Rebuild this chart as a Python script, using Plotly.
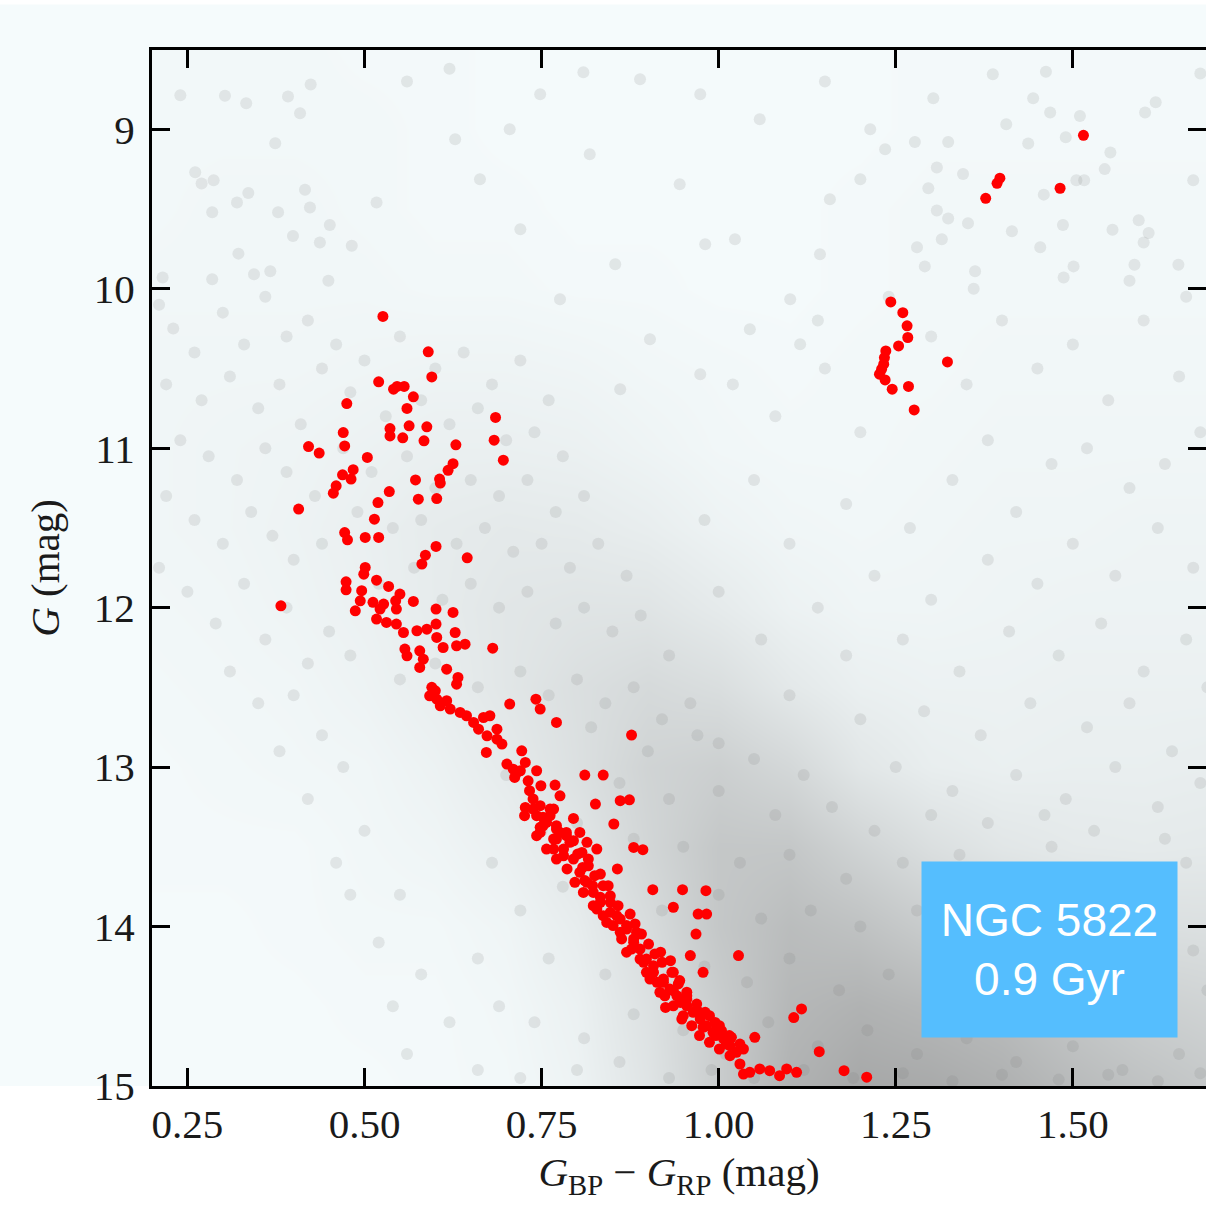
import plotly.graph_objects as go

# ---------------- data ----------------
# cluster members (red): (G_BP - G_RP, G)
members = [
    # red giants
    (1.515, 9.038), (1.397, 9.307), (1.393, 9.339), (1.377, 9.433), (1.482, 9.370),
    (1.243, 10.083), (1.260, 10.150), (1.266, 10.233), (1.267, 10.306), (1.254, 10.359),
    (1.236, 10.390), (1.234, 10.432), (1.233, 10.473), (1.230, 10.505), (1.227, 10.536),
    (1.235, 10.572), (1.245, 10.630), (1.268, 10.613), (1.276, 10.760), (1.323, 10.459),
    # upper main sequence / turn-off
    (0.526, 10.174), (0.590, 10.396), (0.595, 10.553), (0.520, 10.584), (0.541, 10.630),
    (0.546, 10.613), (0.556, 10.613), (0.569, 10.678), (0.560, 10.751), (0.475, 10.720),
    (0.470, 10.902), (0.472, 10.986), (0.536, 10.877), (0.536, 10.923), (0.554, 10.935),
    (0.563, 10.860), (0.588, 10.866), (0.584, 10.954), (0.629, 10.979), (0.685, 10.807),
    (0.683, 10.950), (0.696, 11.075), (0.421, 10.990), (0.436, 11.031), (0.504, 11.058),
    (0.484, 11.135), (0.469, 11.167), (0.481, 11.194), (0.460, 11.236), (0.456, 11.282),
    (0.625, 11.097), (0.618, 11.139), (0.606, 11.194), (0.607, 11.219), (0.572, 11.199),
    (0.576, 11.320), (0.602, 11.316), (0.535, 11.272), (0.519, 11.341), (0.407, 11.382),
    (0.514, 11.445), (0.472, 11.529), (0.476, 11.575), (0.501, 11.560), (0.520, 11.560),
    (0.601, 11.616), (0.586, 11.671), (0.581, 11.727), (0.645, 11.688), (0.501, 11.748),
    (0.499, 11.790), (0.517, 11.828), (0.534, 11.867), (0.474, 11.838), (0.474, 11.888),
    (0.550, 11.915), (0.544, 11.957), (0.569, 11.961), (0.382, 11.989), (0.496, 11.894),
    (0.494, 11.957), (0.487, 12.020), (0.512, 11.967), (0.522, 12.009), (0.601, 12.009),
    (0.625, 12.030), (0.517, 12.072), (0.531, 12.093), (0.545, 12.103), (0.601, 12.103),
    (0.527, 11.978), (0.545, 12.009),
    # main sequence 12 - 13.5
    (0.555, 12.156), (0.574, 12.145), (0.588, 12.135), (0.602, 12.187), (0.628, 12.156),
    (0.630, 12.239), (0.642, 12.229), (0.611, 12.250), (0.681, 12.254), (0.557, 12.260),
    (0.578, 12.271), (0.560, 12.302), (0.583, 12.323), (0.578, 12.375), (0.616, 12.386),
    (0.632, 12.438), (0.630, 12.480), (0.595, 12.500), (0.600, 12.522), (0.592, 12.553),
    (0.602, 12.574), (0.607, 12.616), (0.621, 12.636), (0.635, 12.657), (0.644, 12.678),
    (0.616, 12.584), (0.705, 12.605), (0.742, 12.574), (0.748, 12.636), (0.771, 12.720),
    (0.877, 12.799), (0.654, 12.720), (0.668, 12.689), (0.677, 12.678), (0.661, 12.762),
    (0.673, 12.804), (0.687, 12.762), (0.687, 12.825), (0.694, 12.856), (0.672, 12.908),
    (0.722, 12.898), (0.701, 12.981), (0.710, 13.013), (0.720, 13.023), (0.712, 13.065),
    (0.727, 12.971), (0.743, 13.023), (0.731, 13.086), (0.811, 13.050), (0.837, 13.050),
    (0.749, 13.117), (0.769, 13.113), (0.776, 13.180), (0.733, 13.148), (0.738, 13.200),
    (0.727, 13.253), (0.748, 13.242), (0.767, 13.263), (0.795, 13.322), (0.826, 13.232),
    (0.861, 13.211), (0.874, 13.205), (0.852, 13.357), (0.743, 13.305), (0.757, 13.347),
    (0.771, 13.368), (0.748, 13.410), (0.785, 13.410), (0.795, 13.462), (0.771, 13.451),
    (0.814, 13.472), (0.880, 13.504), (0.714, 13.040),
    # main sequence 13.3 - 15
    (0.752, 13.315), (0.762, 13.263), (0.748, 13.378), (0.771, 13.389), (0.785, 13.430),
    (0.804, 13.410), (0.767, 13.514), (0.781, 13.556), (0.828, 13.514), (0.801, 13.545),
    (0.816, 13.577), (0.808, 13.629), (0.857, 13.639), (0.893, 13.518), (0.833, 13.671),
    (0.811, 13.712), (0.822, 13.744), (0.844, 13.744), (0.907, 13.769), (0.949, 13.769),
    (0.982, 13.775), (0.936, 13.879), (0.971, 13.922), (0.983, 13.922), (0.968, 14.047),
    (0.833, 13.817), (0.847, 13.848), (0.828, 13.890), (0.856, 13.932), (0.842, 13.974),
    (0.870, 13.994), (0.861, 14.036), (0.884, 14.036), (0.880, 14.099), (0.870, 14.161),
    (0.918, 14.161), (0.960, 14.182), (1.028, 14.182), (0.894, 14.224), (0.908, 14.287),
    (0.932, 14.214), (0.936, 14.287), (0.978, 14.287), (0.903, 14.329), (0.922, 14.350),
    (0.945, 14.339), (0.917, 14.412), (0.936, 14.402), (0.955, 14.412), (0.925, 14.507),
    (0.946, 14.476), (0.955, 14.455), (0.948, 14.580), (0.973, 14.538), (0.987, 14.559),
    (0.978, 14.632), (1.001, 14.622), (0.996, 14.684), (1.015, 14.684), (1.011, 14.737),
    (1.035, 14.768), (1.051, 14.695), (1.106, 14.571), (1.117, 14.517), (1.142, 14.785),
    (1.030, 14.862), (1.044, 14.914), (1.058, 14.893), (1.072, 14.904), (1.086, 14.935),
    (1.096, 14.893), (1.110, 14.914), (1.035, 14.925), (1.177, 14.904), (1.209, 14.945),
    (0.738, 13.263), (0.752, 13.368), (0.767, 13.451), (0.781, 13.514), (0.795, 13.577),
    (0.804, 13.660), (0.814, 13.723), (0.823, 13.786), (0.833, 13.848), (0.847, 13.911),
    (0.861, 13.953), (0.870, 14.016), (0.880, 14.078), (0.889, 14.141), (0.898, 14.204),
    (0.908, 14.246), (0.922, 14.329), (0.931, 14.392), (0.941, 14.434), (0.955, 14.497),
    (0.964, 14.538), (0.974, 14.580), (0.983, 14.622), (0.992, 14.663), (1.007, 14.705),
    (1.016, 14.747), (1.025, 14.789),
    (0.726, 13.305), (0.743, 13.430), (0.757, 13.514), (0.771, 13.577), (0.786, 13.639),
    (0.797, 13.723), (0.809, 13.786), (0.823, 13.869), (0.837, 13.932), (0.851, 13.994),
    (0.863, 14.078), (0.877, 14.141), (0.889, 14.204), (0.898, 14.287), (0.913, 14.350),
    (0.924, 14.434), (0.936, 14.497), (0.950, 14.559), (0.962, 14.622), (0.973, 14.684),
    (0.987, 14.726), (1.001, 14.768), (1.016, 14.810),
    (0.762, 13.305), (0.776, 13.410), (0.790, 13.472), (0.807, 13.535), (0.816, 13.619),
    (0.825, 13.681), (0.837, 13.744), (0.847, 13.807), (0.858, 13.869), (0.875, 13.922),
    (0.882, 13.984), (0.891, 14.047), (0.901, 14.110), (0.910, 14.172), (0.920, 14.224),
    (0.934, 14.287), (0.943, 14.360), (0.955, 14.434), (0.969, 14.486), (0.981, 14.538),
    (0.995, 14.601), (1.004, 14.653), (1.018, 14.695), (1.030, 14.737),
]

# field stars (grey): (G_BP - G_RP, G)
field = [
    (0.240, 8.787), (0.303, 8.790), (0.333, 8.837), (0.392, 8.795), (0.424, 8.720),
    (0.409, 8.900), (0.374, 9.088), (0.261, 9.270), (0.270, 9.340), (0.287, 9.320),
    (0.336, 9.400), (0.320, 9.460), (0.285, 9.520), (0.378, 9.520), (0.416, 9.380),
    (0.423, 9.490), (0.451, 9.600), (0.399, 9.670), (0.437, 9.710), (0.482, 9.730),
    (0.517, 9.460), (0.322, 9.780), (0.344, 9.910), (0.367, 9.890), (0.285, 9.940),
    (0.449, 9.950), (0.215, 9.930),
    (1.387, 8.655), (1.462, 8.640), (1.303, 8.806), (1.444, 8.806), (1.468, 8.895),
    (1.510, 8.917), (1.406, 8.969), (1.277, 9.080), (1.324, 9.080), (1.437, 9.090),
    (1.490, 9.050), (1.602, 8.895), (1.617, 8.830), (1.553, 9.146), (1.545, 9.250),
    (1.505, 9.320), (1.516, 9.320), (1.308, 9.240), (1.345, 9.280), (1.296, 9.370),
    (1.459, 9.410), (1.670, 9.320), (1.308, 9.510), (1.324, 9.560), (1.352, 9.590),
    (1.414, 9.640), (1.486, 9.600), (1.556, 9.630), (1.593, 9.570), (1.607, 9.650),
    (1.600, 9.710), (1.280, 9.740), (1.315, 9.690), (1.454, 9.740), (1.291, 9.860),
    (1.362, 9.890), (1.501, 9.860), (1.487, 9.930), (1.587, 9.850), (1.649, 9.850),
    (0.809, 8.643), (0.889, 8.687), (0.974, 8.781), (1.058, 8.937), (0.818, 9.157),
    (0.945, 9.345), (1.023, 9.690), (0.981, 9.721), (0.854, 9.846), (1.101, 10.066),
    (1.157, 9.439), (1.214, 9.000), (1.235, 9.125), (1.200, 9.313), (1.115, 10.348),
    (0.903, 10.317), (0.776, 10.066), (0.720, 9.627), (0.663, 9.313), (0.628, 9.063),
    (1.143, 9.784), (1.044, 10.254), (0.974, 10.536), (0.861, 10.630), (0.748, 8.781),
    (0.705, 9.000), (0.560, 8.700), (0.620, 8.620), (1.150, 8.700), (1.680, 8.650),
    (0.21, 10.10), (0.23, 10.25), (0.26, 10.40), (0.30, 10.15), (0.33, 10.35),
    (0.36, 10.05), (0.39, 10.30), (0.42, 10.20), (0.22, 10.60), (0.27, 10.70),
    (0.31, 10.55), (0.35, 10.75), (0.38, 10.60), (0.41, 10.85), (0.44, 10.50),
    (0.24, 10.95), (0.28, 11.05), (0.32, 11.20), (0.36, 11.00), (0.39, 11.15),
    (0.43, 11.30), (0.22, 11.30), (0.26, 11.45), (0.30, 11.60), (0.34, 11.40),
    (0.37, 11.55), (0.40, 11.70), (0.44, 11.60), (0.21, 11.75), (0.25, 11.90),
    (0.29, 12.10), (0.33, 11.85), (0.36, 12.20), (0.39, 12.00), (0.42, 12.35),
    (0.45, 12.15), (0.31, 12.40), (0.35, 12.60), (0.40, 12.55), (0.44, 12.80),
    (0.38, 12.90), (0.47, 13.00), (0.42, 13.20), (0.50, 13.40), (0.46, 13.60),
    (0.55, 13.80), (0.52, 14.10), (0.58, 14.30), (0.62, 14.60), (0.56, 14.80),
    (0.66, 14.90), (0.48, 13.80), (0.54, 14.50),
    (0.46, 10.35), (0.50, 10.45), (0.55, 10.30), (0.60, 10.50), (0.64, 10.40),
    (0.68, 10.60), (0.72, 10.45), (0.76, 10.70), (0.48, 10.65), (0.53, 10.80),
    (0.58, 10.70), (0.62, 10.85), (0.66, 10.75), (0.70, 10.95), (0.74, 10.90),
    (0.78, 11.05), (0.47, 11.00), (0.51, 11.15), (0.56, 11.05), (0.60, 11.25),
    (0.65, 11.20), (0.69, 11.30), (0.73, 11.20), (0.77, 11.40), (0.81, 11.30),
    (0.49, 11.40), (0.54, 11.50), (0.58, 11.45), (0.63, 11.60), (0.67, 11.50),
    (0.71, 11.65), (0.75, 11.60), (0.79, 11.75), (0.83, 11.60), (0.87, 11.80),
    (0.52, 11.85), (0.57, 11.75), (0.61, 11.95), (0.65, 11.85), (0.69, 12.00),
    (0.73, 11.90), (0.77, 12.10), (0.81, 12.00), (0.85, 12.15), (0.89, 12.05),
    (0.93, 12.30), (0.48, 12.30), (0.55, 12.45), (0.60, 12.35), (0.66, 12.50),
    (0.72, 12.40), (0.76, 12.55), (0.80, 12.45), (0.84, 12.60), (0.88, 12.50),
    (0.92, 12.70), (0.96, 12.60), (1.00, 12.85),
    (1.02, 10.60), (1.08, 10.80), (1.15, 10.50), (1.20, 10.90), (1.30, 10.30),
    (1.35, 10.60), (1.40, 10.20), (1.45, 10.50), (1.50, 10.35), (1.55, 10.70),
    (1.60, 10.20), (1.65, 10.55), (1.68, 10.90), (1.38, 10.95), (1.47, 11.10),
    (1.52, 11.00), (1.58, 11.25), (1.63, 11.10), (1.42, 11.40), (1.33, 11.20),
    (1.27, 11.50), (1.18, 11.35), (1.10, 11.60), (1.05, 11.20), (0.98, 11.45),
    (1.50, 11.60), (1.56, 11.80), (1.62, 11.50), (1.67, 11.75), (1.45, 11.85),
    (1.38, 11.70), (1.30, 11.95), (1.22, 11.80), (1.14, 12.00), (1.06, 12.20),
    (1.00, 11.90), (1.18, 12.30), (1.26, 12.20), (1.34, 12.40), (1.41, 12.15),
    (1.48, 12.30), (1.54, 12.10), (1.60, 12.40), (1.66, 12.20), (1.10, 12.55),
    (1.20, 12.70), (1.29, 12.65), (1.37, 12.80), (1.44, 12.60), (1.52, 12.75),
    (1.58, 12.60), (1.64, 12.90), (1.69, 12.50), (1.25, 13.00), (1.33, 13.15),
    (1.42, 13.05), (1.49, 13.20), (1.56, 13.00), (1.62, 13.25), (1.68, 13.10),
    (1.14, 10.20), (1.24, 10.05), (1.58, 9.95), (1.66, 10.05), (1.36, 10.00),
    (0.82, 12.75), (0.90, 12.90), (0.97, 12.80), (1.05, 12.95), (1.12, 13.05),
    (0.86, 13.10), (0.93, 13.20), (1.00, 13.15), (1.08, 13.30), (1.16, 13.25),
    (1.22, 13.40), (0.80, 13.35), (0.88, 13.45), (0.95, 13.50), (1.03, 13.60),
    (1.10, 13.55), (1.18, 13.70), (1.26, 13.60), (1.34, 13.55), (1.40, 13.70),
    (1.47, 13.50), (1.55, 13.65), (1.63, 13.45), (0.78, 13.75), (0.85, 13.85),
    (0.92, 13.90), (1.00, 13.80), (1.06, 13.95), (1.13, 13.90), (1.20, 14.00),
    (1.28, 13.90), (1.36, 14.05), (1.44, 13.95), (1.52, 14.10), (1.60, 13.95),
    (1.67, 14.15), (0.76, 14.20), (0.84, 14.30), (0.90, 14.15), (0.98, 14.25),
    (1.04, 14.35), (1.10, 14.20), (1.17, 14.40), (1.24, 14.30), (1.31, 14.45),
    (1.39, 14.35), (1.46, 14.50), (1.54, 14.40), (1.62, 14.55), (1.69, 14.40),
    (0.74, 14.60), (0.81, 14.70), (0.88, 14.55), (0.95, 14.65), (1.01, 14.80),
    (1.07, 14.60), (1.14, 14.75), (1.21, 14.65), (1.28, 14.80), (1.35, 14.70),
    (1.42, 14.85), (1.50, 14.75), (1.57, 14.90), (1.65, 14.80), (0.72, 14.95),
    (0.80, 14.90), (0.86, 14.85), (0.93, 14.95), (0.99, 14.90), (1.05, 14.95),
    (1.12, 14.90), (1.19, 14.95), (1.26, 14.92), (1.33, 14.97), (1.40, 14.93),
    (1.48, 14.96), (1.55, 14.93), (1.62, 14.97), (1.68, 14.92), (0.70, 13.05),
    (0.75, 13.40), (0.68, 13.60), (0.72, 13.90), (0.66, 14.20), (0.69, 14.50),
    (1.46, 13.30), (1.53, 13.40), (1.60, 13.70), (1.66, 13.60), (1.30, 13.30),
    (1.38, 13.35),
]

# smoothed field-star density (0 = empty, 1 = darkest)
density_colors = [0.2, 0.3, 0.4, 0.5, 0.6, 0.7, 0.8, 0.9, 1.0, 1.1, 1.2, 1.3, 1.4, 1.5, 1.6, 1.7]
density_mags = [8.5, 9.0, 9.5, 10.0, 10.5, 11.0, 11.5, 12.0, 12.5, 13.0, 13.5, 14.0, 14.5, 15.0]
density_grid = [
    [0.03, 0.03, 0.03, 0.02, 0.02, 0.01, 0.01, 0.01, 0.01, 0.01, 0.01, 0.02, 0.02, 0.02, 0.02, 0.02],
    [0.03, 0.03, 0.03, 0.03, 0.02, 0.01, 0.01, 0.01, 0.01, 0.01, 0.01, 0.02, 0.02, 0.02, 0.02, 0.02],
    [0.03, 0.04, 0.04, 0.03, 0.02, 0.02, 0.01, 0.01, 0.01, 0.01, 0.02, 0.03, 0.03, 0.03, 0.03, 0.03],
    [0.04, 0.04, 0.04, 0.04, 0.03, 0.03, 0.02, 0.02, 0.01, 0.01, 0.02, 0.03, 0.03, 0.03, 0.03, 0.03],
    [0.05, 0.05, 0.05, 0.06, 0.07, 0.07, 0.06, 0.04, 0.03, 0.02, 0.03, 0.03, 0.04, 0.04, 0.04, 0.04],
    [0.05, 0.06, 0.07, 0.09, 0.11, 0.11, 0.10, 0.07, 0.04, 0.03, 0.03, 0.04, 0.05, 0.05, 0.05, 0.05],
    [0.05, 0.06, 0.08, 0.11, 0.15, 0.17, 0.16, 0.13, 0.08, 0.05, 0.04, 0.05, 0.06, 0.06, 0.07, 0.07],
    [0.04, 0.05, 0.07, 0.10, 0.15, 0.20, 0.22, 0.22, 0.16, 0.09, 0.06, 0.06, 0.07, 0.08, 0.08, 0.08],
    [0.03, 0.04, 0.05, 0.08, 0.13, 0.20, 0.27, 0.32, 0.28, 0.18, 0.11, 0.09, 0.09, 0.10, 0.10, 0.10],
    [0.02, 0.03, 0.04, 0.05, 0.09, 0.16, 0.26, 0.38, 0.42, 0.34, 0.20, 0.13, 0.11, 0.12, 0.12, 0.13],
    [0.02, 0.02, 0.02, 0.04, 0.06, 0.11, 0.20, 0.36, 0.50, 0.50, 0.38, 0.27, 0.20, 0.17, 0.16, 0.17],
    [0.01, 0.01, 0.02, 0.03, 0.03, 0.06, 0.14, 0.30, 0.50, 0.60, 0.55, 0.45, 0.38, 0.30, 0.27, 0.26],
    [0.01, 0.01, 0.01, 0.02, 0.02, 0.04, 0.10, 0.25, 0.45, 0.65, 0.70, 0.65, 0.60, 0.50, 0.42, 0.38],
    [0.01, 0.01, 0.01, 0.01, 0.02, 0.03, 0.08, 0.22, 0.45, 0.70, 0.80, 0.78, 0.72, 0.62, 0.55, 0.48],
]

x_ticks = [0.25, 0.50, 0.75, 1.00, 1.25, 1.50]
x_ticklabels = ["0.25", "0.50", "0.75", "1.00", "1.25", "1.50"]
y_ticks = [9, 10, 11, 12, 13, 14, 15]
y_ticklabels = ["9", "10", "11", "12", "13", "14", "15"]

cluster_name = "NGC 5822"
cluster_age = "0.9 Gyr"

# ---------------- figure ----------------
BG = "#f5fbfc"
SERIF = "Liberation Serif, DejaVu Serif, serif"
TXT = "#1a1a1a"

fig = go.Figure()

fig.add_trace(go.Heatmap(
    x=density_colors, y=density_mags, z=density_grid,
    zmin=0, zmax=1, zsmooth="best", showscale=False, hoverinfo="skip",
    colorscale=[[0, BG], [1, "#939393"]],
))

fig.add_trace(go.Scatter(
    x=[p[0] for p in field], y=[p[1] for p in field], mode="markers",
    marker=dict(size=12, color="rgba(120,120,120,0.15)", line=dict(width=0)),
    hoverinfo="skip", showlegend=False,
))

fig.add_trace(go.Scatter(
    x=[p[0] for p in members], y=[p[1] for p in members], mode="markers",
    marker=dict(size=11, color="#ff0000", line=dict(width=0)),
    showlegend=False,
))

axis_common = dict(
    showgrid=False, zeroline=False, ticks="inside", ticklen=18, tickwidth=3,
    tickcolor="black", linecolor="black", linewidth=3, showline=True,
    tickfont=dict(family=SERIF, size=41, color=TXT),
)

fig.update_layout(
    width=1206, height=1209,
    margin=dict(l=152, r=0, t=50, b=123),
    paper_bgcolor="white", plot_bgcolor=BG,
    showlegend=False,
    xaxis=dict(
        range=[0.2, 1.688], tickvals=x_ticks, ticktext=x_ticklabels,
        mirror="ticks", ticklabelstandoff=0,
        title=dict(text="<i>G</i><sub>BP</sub> − <i>G</i><sub>RP</sub> (mag)",
                   font=dict(family=SERIF, size=41, color=TXT), standoff=12),
        **axis_common,
    ),
    yaxis=dict(
        range=[15, 8.503], tickvals=y_ticks, ticktext=y_ticklabels,
        ticklabelstandoff=6,
        title=dict(text="<i>G</i> (mag)", font=dict(family=SERIF, size=41, color=TXT),
                   standoff=22),
        **axis_common,
    ),
    yaxis2=dict(
        overlaying="y", side="right", range=[15, 8.503], tickvals=y_ticks,
        showticklabels=False, showline=False, showgrid=False, zeroline=False,
        ticks="inside", ticklen=18, tickwidth=3, tickcolor="black",
    ),
    shapes=[dict(
        type="rect", xref="paper", yref="paper", x0=-0.2, x1=1.0, y0=0.0, y1=1.044,
        fillcolor=BG, line=dict(width=0), layer="below",
    )],
    annotations=[dict(
        xref="x", yref="y", x=1.467, y=14.144,
        text=f"{cluster_name}<br>{cluster_age}", showarrow=False,
        width=255, height=175, bgcolor="#55befe", borderpad=0,
        align="center", valign="middle",
        font=dict(family="Liberation Sans, Arial, sans-serif", size=46, color="white"),
    )],
)

fig.add_trace(go.Scatter(x=[], y=[], yaxis="y2", showlegend=False, hoverinfo="skip"))

fig.write_html(
    "out.html",
    config={"displayModeBar": False},
    post_script="document.body.style.margin='0';document.body.style.overflow='hidden';",
)
